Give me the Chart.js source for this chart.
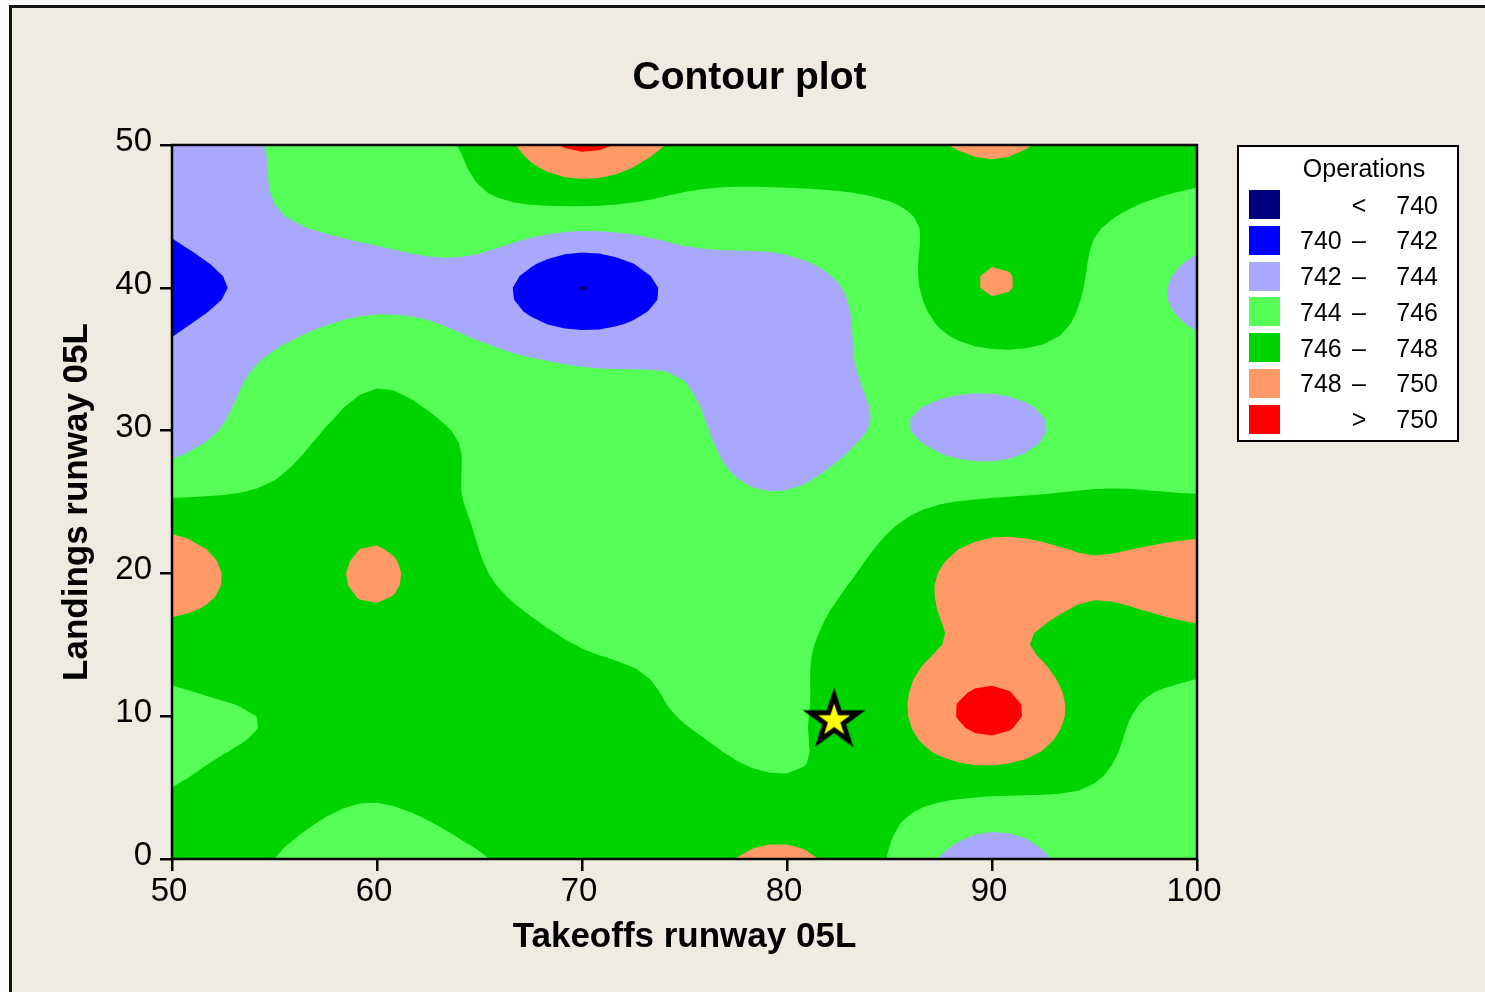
<!DOCTYPE html>
<html>
<head>
<meta charset="utf-8">
<title>Contour plot</title>
<script src="https://cdn.jsdelivr.net/npm/chart.js@4.4.0/dist/chart.umd.min.js"></script>
<style>
  html, body { margin: 0; padding: 0; background: #fbfbfb; overflow: hidden; }
  #frame { position: absolute; left: 9px; top: 5px; width: 1600px; height: 1100px;
           box-sizing: border-box; border: 3px solid #141414; background: #efebe1; }
  #plot { position: absolute; left: 0; top: 0; }
  #legend { position: absolute; left: 1237px; top: 145px; width: 222px; height: 297px;
            box-sizing: border-box; border: 2px solid #000; background: #fff;
            font-family: 'Liberation Sans', Arial, sans-serif; font-size: 25px; color: #000; }
  #legend .t { position: absolute; white-space: nowrap; height: 30px; line-height: 30px; }
  #legend .sw { position: absolute; width: 31px; height: 29px; }
</style>
</head>
<body>
<div id="frame"></div>
<canvas id="plot" width="1485" height="992"></canvas>
<div id="legend"></div>
<script>
// Grid of takeoffs (x) and landings (y) on which operations were measured
const takeoffs = [50, 55, 60, 65, 70, 75, 80, 85, 90, 95, 100];
const landings = [0, 5, 10, 15, 20, 25, 30, 35, 40, 45, 50];

// Operations, one row per landings value (row k belongs to landings[k])
const operations = [
  [746.8, 746.0, 745.2, 745.9, 747.0, 747.2, 748.5, 745.9, 742.5, 745.3, 745.3],
  [746.0, 746.4, 746.2, 746.8, 747.3, 746.6, 746.2, 746.5, 746.5, 745.95, 745.3],
  [745.7, 746.1, 747.0, 747.3, 746.8, 745.95, 745.8, 747.4, 750.7, 746.8, 745.0],
  [746.8, 747.0, 747.3, 747.0, 745.95, 745.8, 745.7, 747.2, 748.4, 747.0, 747.2],
  [749.5, 746.9, 748.3, 746.15, 744.9, 745.3, 745.2, 746.6, 749.3, 748.3, 749.3],
  [746.2, 746.3, 747.2, 745.8, 745.2, 744.6, 744.2, 745.5, 746.2, 746.3, 746.2],
  [742.9, 745.2, 746.5, 745.7, 744.6, 744.3, 743.0, 744.15, 743.0, 745.0, 745.2],
  [742.4, 744.2, 745.5, 744.45, 743.8, 743.8, 743.0, 744.6, 745.6, 745.4, 744.6],
  [741.2, 742.6, 743.4, 743.0, 739.95, 742.7, 743.2, 745.0, 748.15, 745.7, 743.3],
  [742.4, 743.9, 744.6, 745.45, 745.25, 745.2, 745.2, 745.7, 747.0, 746.2, 745.2],
  [743.0, 744.1, 745.0, 746.5, 750.5, 747.5, 747.2, 747.4, 748.3, 747.3, 747.2]
];

// Contour levels and the operating point marked with a star
const bandEdges = [740, 742, 744, 746, 748, 750];
const operatingPoint = [{ x: 82.3, y: 9.7 }];
const takeoffTicks = [50, 60, 70, 80, 90, 100];
const landingTicks = [0, 10, 20, 30, 40, 50];

const bandColors = ['#000080', '#0000ff', '#a8a8ff', '#55ff55', '#00d400', '#ff9966', '#ff0000'];

// ---- smooth surface through the measured grid (Catmull-Rom, clamped per cell) ----
function cr(p0, p1, p2, p3, t) {
  return 0.5 * (2 * p1 + (-p0 + p2) * t + (2 * p0 - 5 * p1 + 4 * p2 - p3) * t * t +
                (-p0 + 3 * p1 - 3 * p2 + p3) * t * t * t);
}
function zAt(i, j) {
  const ni = takeoffs.length, nj = landings.length;
  if (i < 0) return 2 * zAt(0, j) - zAt(1, j);
  if (i > ni - 1) return 2 * zAt(ni - 1, j) - zAt(ni - 2, j);
  if (j < 0) return 2 * zAt(i, 0) - zAt(i, 1);
  if (j > nj - 1) return 2 * zAt(i, nj - 1) - zAt(i, nj - 2);
  return operations[j][i];
}
function surface(i, j, tx, ty) {
  const col = [];
  for (let m = -1; m <= 2; m++) {
    col.push(cr(zAt(i - 1, j + m), zAt(i, j + m), zAt(i + 1, j + m), zAt(i + 2, j + m), tx));
  }
  const v = cr(col[0], col[1], col[2], col[3], ty);
  const c = [zAt(i, j), zAt(i + 1, j), zAt(i, j + 1), zAt(i + 1, j + 1)];
  return Math.min(Math.max(v, Math.min(...c)), Math.max(...c));
}

const SUB = 6;
function buildMesh() {
  const ni = takeoffs.length, nj = landings.length;
  const nx = (ni - 1) * SUB + 1, ny = (nj - 1) * SUB + 1;
  const xs = [], ys = [], z = [];
  for (let I = 0; I < nx; I++) {
    const i = Math.min(Math.floor(I / SUB), ni - 2);
    const tx = I / SUB - i;
    xs.push(takeoffs[i] + tx * (takeoffs[i + 1] - takeoffs[i]));
  }
  for (let J = 0; J < ny; J++) {
    const j = Math.min(Math.floor(J / SUB), nj - 2);
    const ty = J / SUB - j;
    ys.push(landings[j] + ty * (landings[j + 1] - landings[j]));
    const row = [];
    for (let I = 0; I < nx; I++) {
      const i = Math.min(Math.floor(I / SUB), ni - 2);
      const tx = I / SUB - i;
      row.push(surface(i, j, tx, ty));
    }
    z.push(row);
  }
  return { xs, ys, z };
}

// ---- filled contour bands drawn inside the chart area ----
const contourBands = {
  id: 'contourBands',
  beforeDatasetsDraw(chart) {
    const { ctx, chartArea: a, scales } = chart;
    const mesh = buildMesh();
    const px = mesh.xs.map(v => scales.x.getPixelForValue(v));
    const py = mesh.ys.map(v => scales.y.getPixelForValue(v));
    const nx = px.length, ny = py.length;
    ctx.save();
    ctx.beginPath();
    ctx.rect(a.left, a.top, a.right - a.left, a.bottom - a.top);
    ctx.clip();
    ctx.fillStyle = bandColors[0];
    ctx.fillRect(a.left, a.top, a.right - a.left, a.bottom - a.top);
    bandEdges.forEach((t, k) => {
      ctx.beginPath();
      for (let J = 0; J < ny - 1; J++) {
        for (let I = 0; I < nx - 1; I++) {
          const cs = [
            [px[I], py[J], mesh.z[J][I]],
            [px[I + 1], py[J], mesh.z[J][I + 1]],
            [px[I + 1], py[J + 1], mesh.z[J + 1][I + 1]],
            [px[I], py[J + 1], mesh.z[J + 1][I]]
          ];
          const pts = [];
          for (let e = 0; e < 4; e++) {
            const p = cs[e], q = cs[(e + 1) % 4];
            const pin = p[2] >= t, qin = q[2] >= t;
            if (pin) pts.push([p[0], p[1]]);
            if (pin !== qin) {
              const f = (t - p[2]) / (q[2] - p[2]);
              pts.push([p[0] + f * (q[0] - p[0]), p[1] + f * (q[1] - p[1])]);
            }
          }
          if (pts.length > 2) {
            ctx.moveTo(pts[0][0], pts[0][1]);
            for (let n = 1; n < pts.length; n++) ctx.lineTo(pts[n][0], pts[n][1]);
            ctx.closePath();
          }
        }
      }
      ctx.fillStyle = bandColors[k + 1];
      ctx.fill('nonzero');
    });
    ctx.restore();
  },
  afterDatasetsDraw(chart) {
    const { ctx, chartArea: a } = chart;
    ctx.save();
    ctx.strokeStyle = '#000';
    ctx.lineWidth = 2.5;
    ctx.strokeRect(a.left, a.top, a.right - a.left, a.bottom - a.top);
    ctx.restore();
  }
};

// ---- star marker ----
function starImage() {
  const c = document.createElement('canvas');
  c.width = 72; c.height = 72;
  const g = c.getContext('2d');
  function star(R, r) {
    g.beginPath();
    for (let k = 0; k < 10; k++) {
      const ang = -Math.PI / 2 + k * Math.PI / 5;
      const rad = k % 2 === 0 ? R : r;
      const X = 36 + rad * Math.cos(ang), Y = 36 + rad * Math.sin(ang);
      if (k === 0) g.moveTo(X, Y); else g.lineTo(X, Y);
    }
    g.closePath();
  }
  star(33, 12.6); g.fillStyle = '#000'; g.fill();
  star(17, 6.5); g.fillStyle = '#ffff00'; g.fill();
  return c;
}

Chart.defaults.font.family = "'Liberation Sans', Arial, sans-serif";
Chart.defaults.color = '#000';

new Chart(document.getElementById('plot'), {
  type: 'scatter',
  data: {
    datasets: [{
      label: 'Operating point',
      data: operatingPoint,
      pointStyle: starImage(),
      pointRadius: 33,
      pointHoverRadius: 33
    }]
  },
  options: {
    responsive: false,
    animation: false,
    devicePixelRatio: 1,
    layout: { padding: { left: 14, right: 0, top: 0, bottom: 0 } },
    plugins: {
      legend: { display: false },
      tooltip: { enabled: false },
      title: {
        display: true,
        text: 'Contour plot',
        color: '#000',
        font: { size: 39, weight: 'bold', lineHeight: 1.2 },
        padding: { top: 55, bottom: 43.2 }
      }
    },
    scales: {
      x: {
        type: 'linear', min: 50, max: 100,
        afterBuildTicks: s => { s.ticks = takeoffTicks.map(v => ({ value: v })); },
        afterFit: s => { s.height = 133; },
        ticks: { font: { size: 33 }, color: '#000', padding: 1, labelOffset: -3, maxRotation: 0 },
        grid: { drawOnChartArea: false, tickLength: 12, color: '#000', lineWidth: 2.5 },
        border: { display: false },
        title: { display: true, text: 'Takeoffs runway 05L', color: '#000',
                 font: { size: 35, weight: 'bold', lineHeight: 1.2 }, padding: { top: 0, bottom: 34 } }
      },
      y: {
        type: 'linear', min: 0, max: 50,
        afterBuildTicks: s => { s.ticks = landingTicks.map(v => ({ value: v })); },
        afterFit: s => { s.width = 158; },
        ticks: { font: { size: 33 }, color: '#000', padding: 8, labelOffset: -3 },
        grid: { drawOnChartArea: false, tickLength: 12, color: '#000', lineWidth: 2.5 },
        border: { display: false },
        title: { display: true, text: 'Landings runway 05L', color: '#000',
                 font: { size: 35, weight: 'bold', lineHeight: 1.2 }, padding: { top: 42.5, bottom: 0 } }
      },
      side: {
        axis: 'y', position: 'right', min: 0, max: 1,
        afterFit: s => { s.width = 288; },
        ticks: { display: false },
        grid: { display: false },
        border: { display: false }
      }
    }
  },
  plugins: [contourBands]
});

// ---- legend box ----
(function buildLegend() {
  const box = document.getElementById('legend');
  const title = document.createElement('div');
  title.className = 't';
  title.textContent = 'Operations';
  title.style.left = '0px'; title.style.width = '250px'; title.style.textAlign = 'center';
  title.style.top = '6px';
  box.appendChild(title);
  const rows = [];
  rows.push(['', '<', String(bandEdges[0])]);
  for (let k = 1; k < bandEdges.length; k++) rows.push([String(bandEdges[k - 1]), '–', String(bandEdges[k])]);
  rows.push(['', '>', String(bandEdges[bandEdges.length - 1])]);
  rows.forEach((r, k) => {
    const cy = 57.5 + k * 35.75;
    const sw = document.createElement('div');
    sw.className = 'sw';
    sw.style.left = '10px';
    sw.style.top = (cy - 14.5) + 'px';
    sw.style.background = bandColors[k];
    box.appendChild(sw);
    const a = document.createElement('div');
    a.className = 't'; a.textContent = r[0];
    a.style.left = '61px'; a.style.top = (cy - 15) + 'px';
    box.appendChild(a);
    const m = document.createElement('div');
    m.className = 't'; m.textContent = r[1];
    m.style.left = '106px'; m.style.width = '28px'; m.style.textAlign = 'center';
    m.style.top = (cy - 15) + 'px';
    box.appendChild(m);
    const b = document.createElement('div');
    b.className = 't'; b.textContent = r[2];
    b.style.right = '19px'; b.style.textAlign = 'right';
    b.style.top = (cy - 15) + 'px';
    box.appendChild(b);
  });
})();
</script>
</body>
</html>
